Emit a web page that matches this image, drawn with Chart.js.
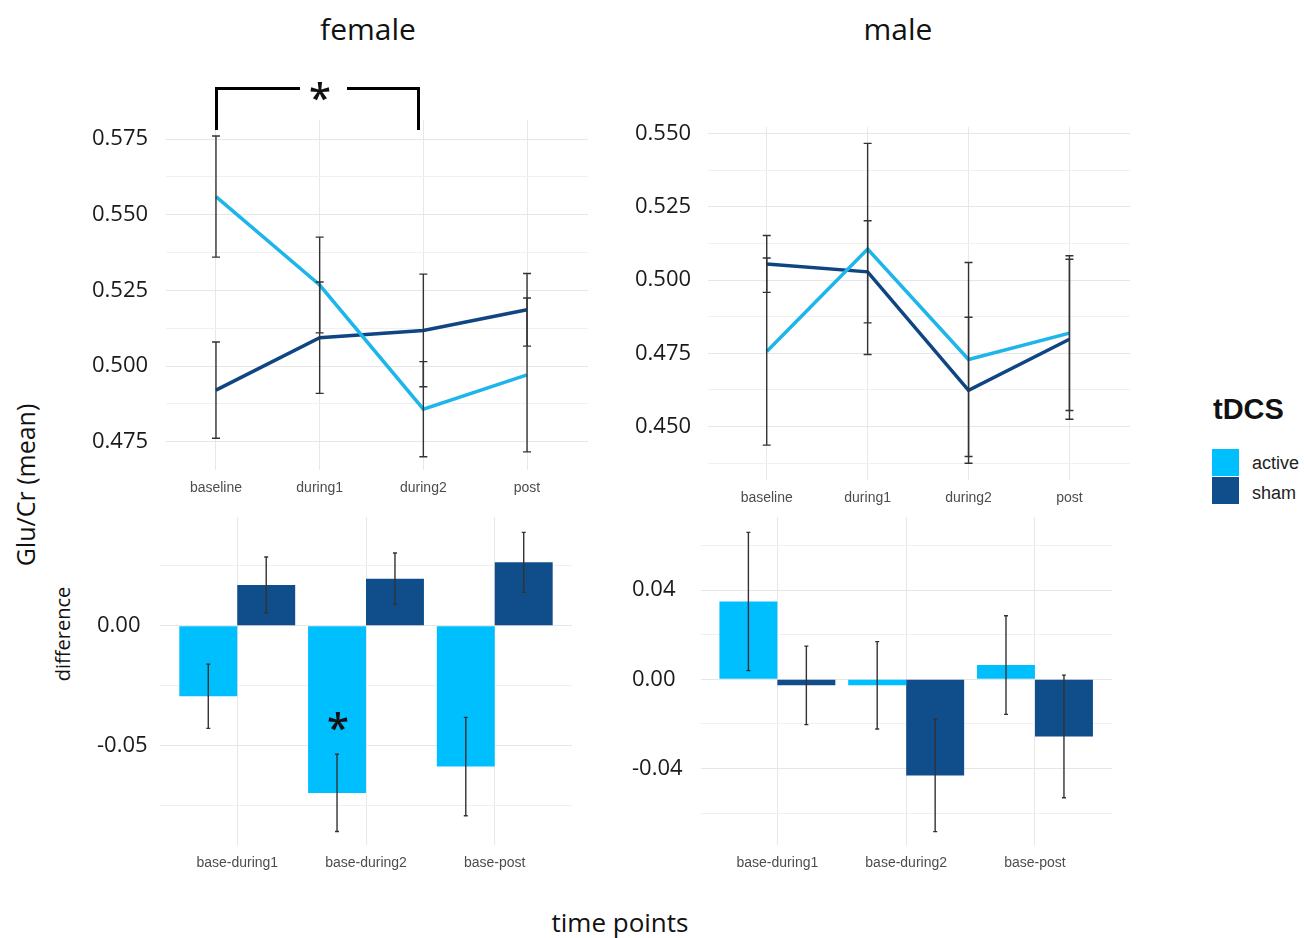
<!DOCTYPE html>
<html>
<head>
<meta charset="utf-8">
<script src="https://cdn.jsdelivr.net/npm/chart.js@4.4.1/dist/chart.umd.min.js"></script>
<style>
  body { margin: 0; background: #fff; }
  #fig { position: relative; width: 1304px; height: 938px; overflow: hidden; font-family: "Open Sans", sans-serif; color: #111; }
  canvas { position: absolute; }
  .txt { position: absolute; white-space: nowrap; transform: translate(-50%, -50%); }
  .rot { transform: translate(-50%, -50%) rotate(-90deg); }
  .sw { position: absolute; width: 27px; height: 27px; }
  .leg { position: absolute; font-family: "Liberation Sans", Arial, sans-serif; font-size: 18px; color: #222; transform: translateY(-50%); }
</style>
</head>
<body>
<div id="fig">
  <canvas id="c-tl" width="508" height="410" style="left:92px;top:100px"></canvas>
  <canvas id="c-tr" width="505" height="410" style="left:635px;top:100px"></canvas>
  <canvas id="c-bl" width="500" height="385" style="left:97px;top:495px"></canvas>
  <canvas id="c-br" width="508" height="385" style="left:632px;top:495px"></canvas>

  <div class="txt" style="left:368px;top:28px;font-size:30px">female</div>
  <div class="txt" style="left:898px;top:28px;font-size:30px">male</div>

  <!-- Klammer + Stern über dem female-Panel -->
  <div style="position:absolute;left:215px;top:87px;width:199px;height:40px;border:3px solid #000;border-bottom:none"></div>
  <div style="position:absolute;left:300px;top:80px;width:47px;height:16px;background:#fff"></div>
  <div class="txt" style="left:320px;top:96px;font-size:40px;font-weight:600">*</div>
  <div class="txt" style="left:338px;top:726px;font-size:40px;font-weight:600">*</div>

  <div class="txt rot" style="left:25px;top:485px;font-size:25px">Glu/Cr (mean)</div>
  <div class="txt rot" style="left:62px;top:634px;font-size:20px">difference</div>
  <div class="txt" style="left:620px;top:922px;font-size:26px">time points</div>

  <div style="position:absolute;left:1213px;top:393px;font-family:'Liberation Sans',Arial,sans-serif;font-weight:bold;font-size:29px">tDCS</div>
  <div class="sw" style="left:1212px;top:449px;background:#00BFFF"></div>
  <div class="sw" style="left:1212px;top:477px;background:#104E8B"></div>
  <div class="leg" style="left:1252px;top:463px">active</div>
  <div class="leg" style="left:1252px;top:493px">sham</div>
</div>

<script>
// --- Daten ---
const timeLabels = ["baseline", "during1", "during2", "post"];
const diffLabels = ["base-during1", "base-during2", "base-post"];

const femaleActive    = [0.556, 0.5268, 0.4858, 0.4971];
const femaleActiveErr = [0.020, 0.0158, 0.0157, 0.0254];
const femaleSham      = [0.4921, 0.5094, 0.5118, 0.5186];
const femaleShamErr   = [0.0159, 0.0184, 0.0186, 0.012];

const maleActive    = [0.4756, 0.5106, 0.4729, 0.4819];
const maleActiveErr = [0.0319, 0.036, 0.0331, 0.0264];
const maleSham      = [0.5055, 0.5028, 0.4624, 0.4798];
const maleShamErr   = [0.0097, 0.0174, 0.0249, 0.0273];

const femaleDiffActive    = [-0.0294, -0.0697, -0.0587];
const femaleDiffActiveErr = [0.0134, 0.0161, 0.0205];
const femaleDiffSham      = [0.017, 0.0196, 0.0264];
const femaleDiffShamErr   = [0.0116, 0.0107, 0.0125];

const maleDiffActive    = [0.0349, -0.0027, 0.0064];
const maleDiffActiveErr = [0.031, 0.0196, 0.0221];
const maleDiffSham      = [-0.0027, -0.0431, -0.0256];
const maleDiffShamErr   = [0.0176, 0.0252, 0.0275];

const femaleTicks     = [0.475, 0.500, 0.525, 0.550, 0.575];
const maleTicks       = [0.450, 0.475, 0.500, 0.525, 0.550];
const femaleDiffTicks = [-0.05, 0.00];
const maleDiffTicks   = [-0.04, 0.00, 0.04];

const ACTIVE_LINE = "#1DB5EA", SHAM_LINE = "#0E4582";
const ACTIVE_BAR = "#00BFFF", SHAM_BAR = "#104E8B";

// Fehlerbalken über die Skalen des Charts
const errorBars = {
  id: "errorBars",
  afterDatasetsDraw(chart, args, opts) {
    const ctx = chart.ctx, y = chart.scales.y;
    ctx.save();
    ctx.strokeStyle = "#333";
    ctx.lineWidth = 1.4;
    chart.data.datasets.forEach((ds, di) => {
      chart.getDatasetMeta(di).data.forEach((el, i) => {
        const m = ds.data[i].y, e = ds.err[i];
        const top = y.getPixelForValue(m + e), bot = y.getPixelForValue(m - e);
        const x = el.x, c = opts.cap;
        ctx.beginPath();
        ctx.moveTo(x, top); ctx.lineTo(x, bot);
        ctx.moveTo(x - c, top); ctx.lineTo(x + c, top);
        ctx.moveTo(x - c, bot); ctx.lineTo(x + c, bot);
        ctx.stroke();
      });
    });
    ctx.restore();
  }
};

function gridValues(majors, min, max) {
  const step = majors[1] - majors[0];
  const out = [];
  for (let v = majors[0] - step; v <= majors[majors.length - 1] + step + 1e-9; v += step / 2) {
    const r = Math.round(v * 1e6) / 1e6;
    if (r >= min && r <= max) out.push(r);
  }
  return out;
}

function panel(id, p) {
  const isMajor = (v) => p.majors.some((m) => Math.abs(m - v) < 1e-7);
  const pts = (arr) => arr.map((v, i) => ({ x: i + 1, y: v }));
  const datasets = p.series.map((s) => p.type === "line"
    ? { data: pts(s.values), err: s.err, borderColor: s.color, borderWidth: 3.5, pointRadius: 0, tension: 0 }
    : { data: pts(s.values), err: s.err, backgroundColor: s.color, borderWidth: 0, barPercentage: 1, categoryPercentage: 0.9 });

  new Chart(document.getElementById(id), {
    type: p.type,
    data: { datasets },
    options: {
      responsive: false,
      animation: false,
      layout: { padding: { top: p.padTop, right: p.padRight, left: 0, bottom: 0 } },
      plugins: { legend: { display: false }, tooltip: { enabled: false }, errorBars: { cap: p.cap } },
      scales: {
        x: {
          type: "linear", min: p.xMin, max: p.xMax, offset: false,
          afterBuildTicks: (s) => { s.ticks = p.labels.map((_, i) => ({ value: i + 1 })); },
          afterFit: (s) => { s.height = p.xH; },
          ticks: {
            callback: (v) => p.labels[Math.round(v) - 1] ?? "",
            autoSkip: false, maxRotation: 0, padding: 10, color: "#4d4d4d",
            font: { family: "Liberation Sans", size: 14 },
          },
          grid: { color: "#e8e8e8", drawTicks: false, offset: false },
          border: { display: false },
        },
        y: {
          min: p.yMin, max: p.yMax,
          afterBuildTicks: (s) => { s.ticks = gridValues(p.majors, p.yMin, p.yMax).map((v) => ({ value: v })); },
          afterFit: (s) => { s.width = p.yW; },
          ticks: {
            callback: (v) => (isMajor(v) ? v.toFixed(p.digits) : ""),
            crossAlign: "far", color: "#1a1a1a",
            font: { family: "Open Sans", size: 22 },
          },
          grid: { color: (c) => (isMajor(c.tick.value) ? "#e6e6e6" : "#f0f0f0"), drawTicks: false },
          border: { display: false },
        },
      },
    },
    plugins: [errorBars],
  });
}

panel("c-tl", {
  type: "line", labels: timeLabels, majors: femaleTicks, digits: 3,
  yMin: 0.4657, yMax: 0.5813, xMin: 0.518, xMax: 4.588,
  padTop: 20, padRight: 12, yW: 74, xH: 40, cap: 4,
  series: [
    { values: femaleActive, err: femaleActiveErr, color: ACTIVE_LINE },
    { values: femaleSham, err: femaleShamErr, color: SHAM_LINE },
  ],
});

panel("c-tr", {
  type: "line", labels: timeLabels, majors: maleTicks, digits: 3,
  yMin: 0.4318, yMax: 0.5522, xMin: 0.418, xMax: 4.60,
  padTop: 27, padRight: 10, yW: 73, xH: 30, cap: 4,
  series: [
    { values: maleActive, err: maleActiveErr, color: ACTIVE_LINE },
    { values: maleSham, err: maleShamErr, color: SHAM_LINE },
  ],
});

panel("c-bl", {
  type: "bar", labels: diffLabels, majors: femaleDiffTicks, digits: 2,
  yMin: -0.0914, yMax: 0.0453, xMin: 0.4, xMax: 3.6,
  padTop: 22, padRight: 25, yW: 63, xH: 35, cap: 2,
  series: [
    { values: femaleDiffActive, err: femaleDiffActiveErr, color: ACTIVE_BAR },
    { values: femaleDiffSham, err: femaleDiffShamErr, color: SHAM_BAR },
  ],
});

panel("c-br", {
  type: "bar", labels: diffLabels, majors: maleDiffTicks, digits: 2,
  yMin: -0.0743, yMax: 0.0728, xMin: 0.407, xMax: 3.598,
  padTop: 22, padRight: 28, yW: 69, xH: 35, cap: 2,
  series: [
    { values: maleDiffActive, err: maleDiffActiveErr, color: ACTIVE_BAR },
    { values: maleDiffSham, err: maleDiffShamErr, color: SHAM_BAR },
  ],
});
</script>
</body>
</html>
